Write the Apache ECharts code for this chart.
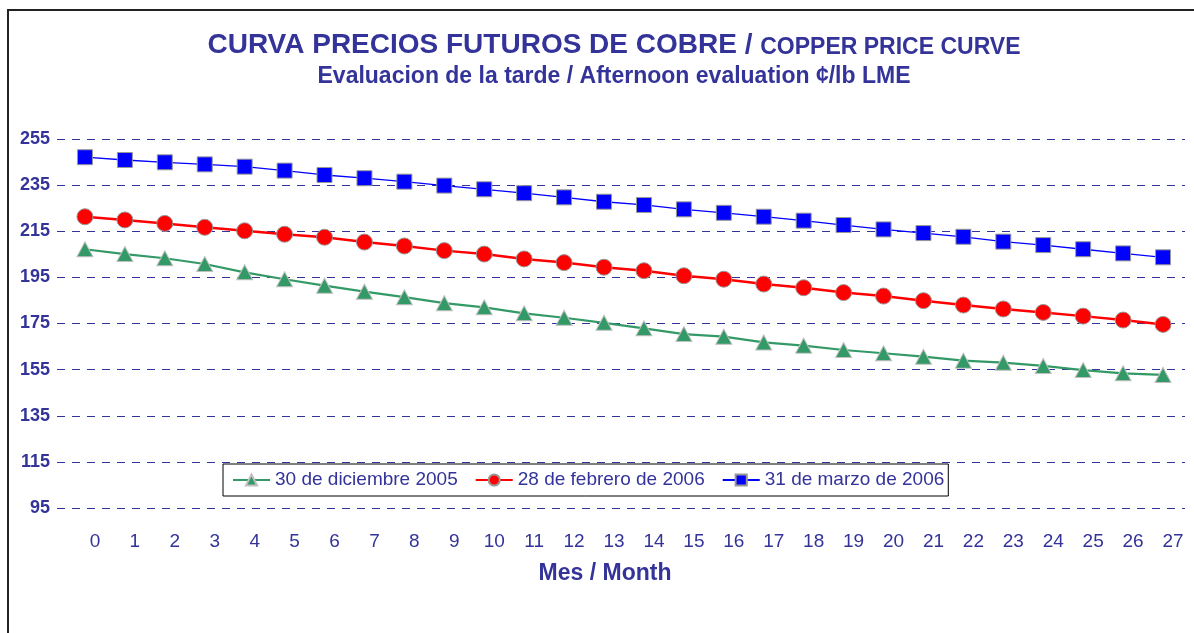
<!DOCTYPE html>
<html>
<head>
<meta charset="utf-8">
<script src="https://cdn.jsdelivr.net/npm/echarts@6/dist/echarts.min.js"></script>
<style>
  html, body { margin: 0; padding: 0; background: #fff; }
  #chart { width: 1194px; height: 633px; }
</style>
</head>
<body>
<div id="chart"></div>
<script>
// curva de precios futuros - cobre LME, evaluacion de la tarde
var chart = echarts.init(document.getElementById('chart'));

var fontName = '"Liberation Sans", Arial, sans-serif';
var azul = '#333399';

var meses = [0, 1, 2, 3, 4, 5, 6, 7, 8, 9, 10, 11, 12, 13, 14, 15, 16, 17, 18, 19, 20, 21, 22, 23, 24, 25, 26, 27];

var nombres = ['30 de diciembre 2005', '28 de febrero de 2006', '31 de marzo de 2006'];

var dic2005 = [207.2, 205.1, 203.3, 200.8, 197.2, 194.2, 191.4, 188.8, 186.4, 183.8, 182.0, 179.4, 177.5, 175.3,
               172.9, 170.4, 169.3, 166.8, 165.4, 163.5, 162.1, 160.6, 158.9, 158.0, 156.6, 154.8, 153.4, 152.7];
var feb2006 = [221.3, 219.9, 218.4, 216.7, 215.2, 213.7, 212.4, 210.3, 208.6, 206.6, 205.1, 203.0, 201.4, 199.4,
               197.9, 195.7, 194.2, 192.1, 190.5, 188.4, 186.9, 184.9, 183.0, 181.3, 179.8, 178.2, 176.5, 174.6];
var mar2006 = [247.1, 245.9, 244.9, 244.0, 243.0, 241.3, 239.4, 238.0, 236.5, 234.8, 233.2, 231.5, 229.7, 227.8,
               226.4, 224.5, 223.0, 221.3, 219.6, 217.7, 215.8, 214.2, 212.6, 210.5, 209.0, 207.2, 205.4, 203.7];

var pares = function(vals) {
    var res = [];
    for (var i = 0; i < meses.length; i++) {
        res.push([meses[i], vals[i]]);
    }
    return res;
};

option = {
    animation: false,
    backgroundColor: '#fff',
    title: [
        {
            text: '{a|CURVA PRECIOS FUTUROS DE COBRE / }{b|COPPER PRICE CURVE}',
            left: 609,
            top: 26,
            textAlign: 'center',
            textStyle: {
                rich: {
                    a: { fontFamily: fontName, fontWeight: 'bold', fontSize: 28, color: azul, verticalAlign: 'bottom' },
                    b: { fontFamily: fontName, fontWeight: 'bold', fontSize: 23, color: azul, verticalAlign: 'bottom' }
                }
            }
        },
        {
            text: 'Evaluacion de la tarde / Afternoon evaluation ¢/lb LME',
            left: 609,
            top: 60,
            textAlign: 'center',
            textStyle: { fontFamily: fontName, fontWeight: 'bold', fontSize: 23, color: azul }
        },
        {
            text: 'Mes / Month',
            left: 600,
            top: 557,
            textAlign: 'center',
            textStyle: { fontFamily: fontName, fontWeight: 'bold', fontSize: 23, color: azul }
        }
    ],
    legend: {
        data: nombres,
        left: 223,
        top: 464,
        orient: 'horizontal',
        backgroundColor: '#fff',
        borderColor: '#000',
        borderWidth: 1,
        padding: [5, 4, 5, 9],
        itemGap: 17,
        itemWidth: 37,
        itemHeight: 14,
        textStyle: { fontFamily: fontName, fontSize: 19, color: azul, lineHeight: 22 }
    },
    graphic: [
        {
            type: 'rect',
            shape: { x: 8, y: 10, width: 1400, height: 800 },
            style: { fill: 'none', stroke: '#222', lineWidth: 2 },
            silent: true
        }
    ],
    grid: {
        left: 57,
        right: 9,
        top: 139,
        bottom: 125
    },
    xAxis: {
        type: 'value',
        min: -0.7,
        max: 27.55,
        axisLine: { show: false },
        axisTick: { show: false },
        splitLine: { show: false },
        axisLabel: {
            customValues: meses,
            margin: 24,
            padding: [0, 0, 0, 20],
            fontFamily: fontName,
            fontSize: 19,
            color: azul
        }
    },
    yAxis: {
        type: 'value',
        min: 95,
        max: 255,
        interval: 20,
        axisLine: { show: false },
        axisTick: { show: false },
        axisLabel: {
            margin: 7,
            fontFamily: fontName,
            fontWeight: 'bold',
            fontSize: 18,
            color: azul
        },
        splitLine: {
            show: true,
            lineStyle: { color: azul, width: 1, type: [8, 7] }
        }
    },
    series: [
        {
            name: nombres[0],
            type: 'line',
            data: pares(dic2005),
            symbol: 'triangle',
            symbolSize: [16, 15],
            lineStyle: { color: '#339966', width: 2.2 },
            itemStyle: { color: '#339966', borderColor: '#c0c0c0', borderWidth: 1 },
            z: 2
        },
        {
            name: nombres[1],
            type: 'line',
            data: pares(feb2006),
            symbol: 'circle',
            symbolSize: 16,
            lineStyle: { color: '#ff0000', width: 2.5 },
            itemStyle: { color: '#ff0000', borderColor: '#999', borderWidth: 1 },
            z: 3
        },
        {
            name: nombres[2],
            type: 'line',
            data: pares(mar2006),
            symbol: 'rect',
            symbolSize: 15,
            lineStyle: { color: '#0000ff', width: 1.3 },
            itemStyle: { color: '#0000ff', borderColor: '#999', borderWidth: 1 },
            z: 4
        }
    ]
};

chart.setOption(option);
</script>
</body>
</html>
